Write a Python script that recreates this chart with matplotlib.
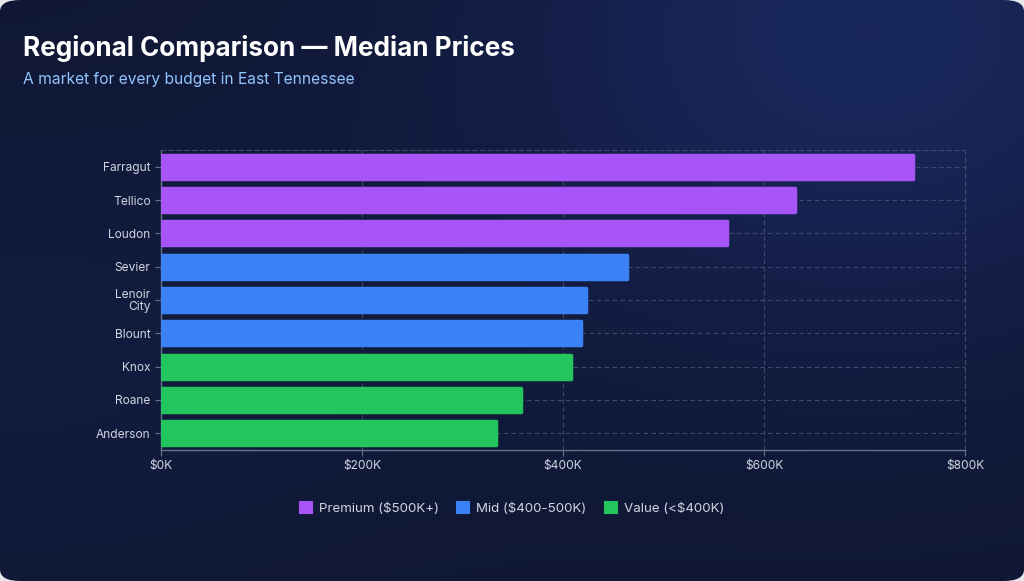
import numpy as np
import matplotlib.pyplot as plt
from matplotlib.patches import FancyBboxPatch, Patch
from matplotlib.ticker import FuncFormatter

plt.rcParams['font.family'] = ['Inter', 'DejaVu Sans']

# Daten
regions = ['Farragut', 'Tellico', 'Loudon', 'Sevier', 'Lenoir\nCity',
           'Blount', 'Knox', 'Roane', 'Anderson']
prices = [748000, 631000, 563000, 464000, 423000, 418000, 408000, 358000, 333000]
tiers = ['Premium', 'Premium', 'Premium', 'Mid', 'Mid', 'Mid', 'Value', 'Value', 'Value']

tier_colors = {'Premium': '#a855f7', 'Mid': '#3b82f6', 'Value': '#22c55e'}
tier_labels = {'Premium': 'Premium ($500K+)', 'Mid': 'Mid ($400-500K)', 'Value': 'Value (<$400K)'}

text_col = '#cfd6e2'
grid_col = '#3d4a6b'

fig = plt.figure(figsize=(10.24, 5.81), dpi=100)
fig.patch.set_facecolor('#e5e7eb')

# Hintergrundkarte mit Verlauf
bg = fig.add_axes([0, 0, 1, 1], zorder=-10)
bg.set_xlim(0, 1)
bg.set_ylim(0, 1)
bg.axis('off')
gx, gy = np.meshgrid(np.linspace(0, 1, 200), np.linspace(0, 1, 120))
glow = np.exp(-((gx - 0.85) ** 2 / 0.15 + (gy - 0.95) ** 2 / 0.3))
glow2 = np.exp(-((gx - 0.0) ** 2 / 0.2 + (gy - 0.4) ** 2 / 0.2))
dark = np.array([0.06, 0.09, 0.20])
light = np.array([0.10, 0.16, 0.37])
img = dark[None, None, :] + (light - dark)[None, None, :] * (glow * 0.95 + glow2 * 0.25)[..., None]
card = FancyBboxPatch((0.0, 0.0), 1.0, 1.0, boxstyle='round,pad=0,rounding_size=0.02',
                      transform=bg.transAxes, facecolor='none', edgecolor='none')
bg.add_patch(card)
im = bg.imshow(img, extent=[0, 1, 0, 1], origin='lower', aspect='auto', interpolation='bilinear')
im.set_clip_path(card)

fig.text(0.0225, 0.917, 'Regional Comparison \u2014 Median Prices', color='white',
         fontsize=18.8, fontweight='bold', va='center', ha='left')
fig.text(0.0225, 0.864, 'A market for every budget in East Tennessee', color='#93c5fd',
         fontsize=11.2, va='center', ha='left')

ax = fig.add_axes([0.1572, 0.2255, 0.7852, 0.5163])
ax.set_facecolor('none')

y = np.arange(len(regions))
colors = [tier_colors[t] for t in tiers]
ax.barh(y, prices, height=0.72, color=colors, edgecolor=colors, linewidth=2.5,
        joinstyle='round', zorder=3)

ax.set_xlim(0, 800000)
ax.set_ylim(len(regions) - 0.5, -0.5)
ax.set_yticks(y)
ax.set_yticklabels(regions, linespacing=0.9)
ax.set_xticks([0, 200000, 400000, 600000, 800000])
ax.xaxis.set_major_formatter(FuncFormatter(lambda v, p: f'${int(v / 1000)}K'))

ax.tick_params(colors='#64748b', labelcolor=text_col, labelsize=8.6, length=4, width=0.8)
ax.grid(True, color=grid_col, linestyle=(0, (4, 3)), linewidth=0.8, zorder=0)

for side in ['left', 'bottom']:
    ax.spines[side].set_color('#64748b')
    ax.spines[side].set_linewidth(1)
for side in ['top', 'right']:
    ax.spines[side].set_color(grid_col)
    ax.spines[side].set_linestyle((0, (4, 3)))
    ax.spines[side].set_linewidth(0.8)

handles = [Patch(facecolor=tier_colors[k], edgecolor=tier_colors[k], label=tier_labels[k],
                 joinstyle='round', linewidth=1.5)
           for k in ['Premium', 'Mid', 'Value']]
fig.legend(handles=handles, loc='center', bbox_to_anchor=(0.5, 0.125), ncol=3,
           frameon=False, fontsize=9.6, labelcolor=text_col, handlelength=0.9,
           handleheight=0.9, handletextpad=0.5, columnspacing=1.4)

fig.savefig('out.png', dpi=100, facecolor=fig.get_facecolor())
